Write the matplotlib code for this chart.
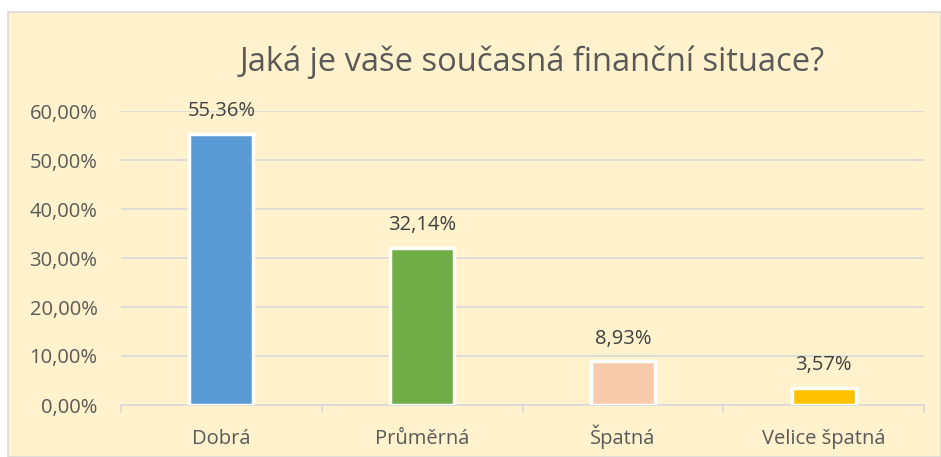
import matplotlib
matplotlib.use("Agg")
from matplotlib import pyplot as plt
from matplotlib.patches import Rectangle

categories = ["Dobrá", "Průměrná", "Špatná", "Velice špatná"]
values = [55.36, 32.14, 8.93, 3.57]
labels = ["55,36%", "32,14%", "8,93%", "3,57%"]
colors = ["#5B9BD5", "#70AD47", "#F8CBAD", "#FFC000"]
yticks = [0, 10, 20, 30, 40, 50, 60]

plt.rcParams["font.family"] = ["Open Sans", "DejaVu Sans"]

W, H = 941, 457
fig = plt.figure(figsize=(W / 100, H / 100), dpi=100)

# chart panel background with light border
fig.patches.append(Rectangle((8 / W, 0), 1 - 8 / W, 1 - 12 / H, transform=fig.transFigure,
                             facecolor="#FFF2CC", edgecolor="#D9D9D9", linewidth=1.2, zorder=-1))

ax = fig.add_axes([121 / W, (H - 405) / H, (924 - 121) / W, (405 - 111) / H])
ax.set_facecolor("none")
ax.set_zorder(1)

x = range(len(categories))
ax.bar(x, values, width=0.32, color=colors, edgecolor="white", linewidth=2.5, zorder=3)

for i, v in enumerate(values):
    ax.annotate(labels[i], (i, v), xytext=(0, 9), textcoords="offset points",
                ha="center", va="bottom", fontsize=14.5, color="#404040")

ax.set_xlim(-0.5, 3.5)
ax.set_ylim(0, 60)
ax.set_yticks(yticks)
ax.set_yticklabels(["%d,00%%" % t for t in yticks])
ax.yaxis.grid(True, color="#D9D9D9", linewidth=1.2, zorder=0)
ax.tick_params(axis="y", length=0, pad=17, labelsize=14.5, labelcolor="#595959")

ax.set_xticks(list(x))
ax.set_xticklabels(categories)
for t in ax.get_xticklabels():
    t.set_va("baseline")
ax.set_xticks([-0.5, 0.5, 1.5, 2.5, 3.5], minor=True)
ax.tick_params(axis="x", which="major", length=0, pad=28, labelsize=14.5, labelcolor="#595959")
ax.tick_params(axis="x", which="minor", length=6, color="#D9D9D9", width=1.2)

for s in ["top", "right", "left"]:
    ax.spines[s].set_visible(False)
ax.spines["bottom"].set_color("#D9D9D9")
ax.spines["bottom"].set_linewidth(1.2)

fig.text(532 / W, 1 - 62 / H, "Jaká je vaše současná finanční situace?", ha="center", va="center",
         fontsize=23.5, color="#595959")

fig.savefig("out.png", dpi=100)
